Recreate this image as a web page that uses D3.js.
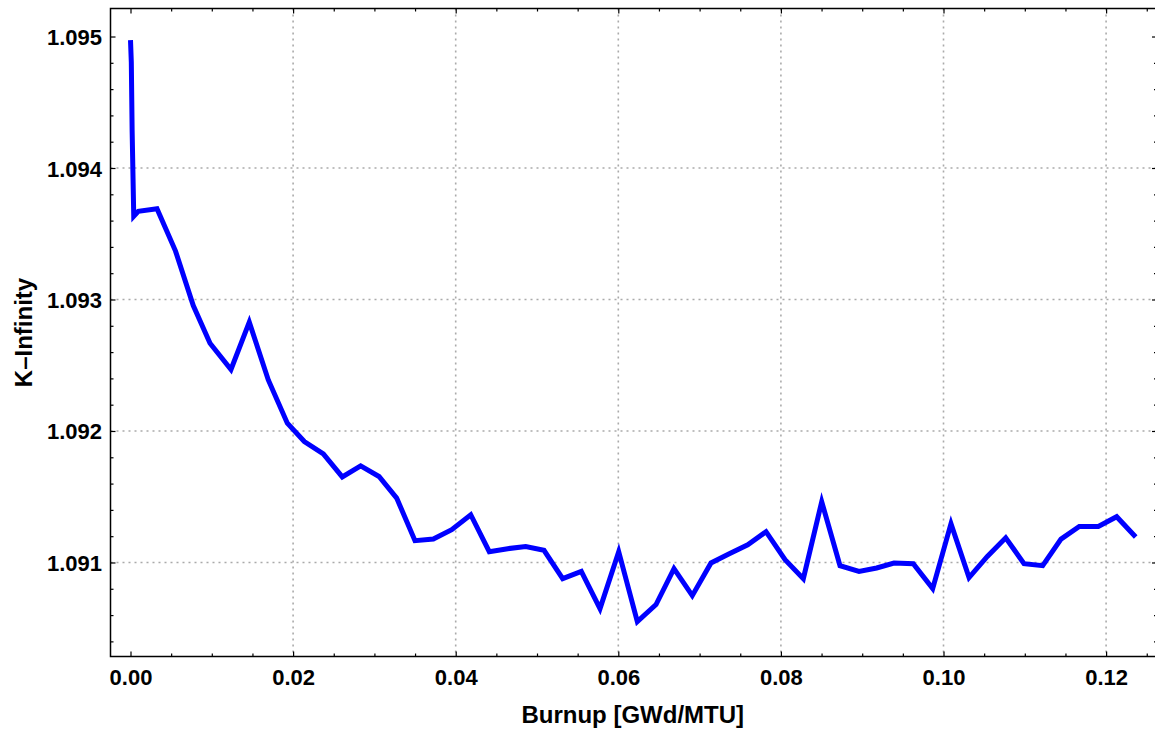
<!DOCTYPE html>
<html>
<head>
<meta charset="utf-8">
<script src="https://cdn.jsdelivr.net/npm/d3@7"></script>
<style>
  html, body { margin: 0; padding: 0; background: #fff; }
  svg { display: block; }
  text { font-family: "Liberation Sans", Arial, Helvetica, sans-serif; font-weight: bold; fill: #000; }
</style>
</head>
<body>
<svg id="chart" width="1155" height="734"></svg>
<script>
// Burnup steps [GWd/MTU]
const burnup = [
  0, 0.0001, 0.0002, 0.0004, 0.00096, 0.00326, 0.00554, 0.00772, 0.00978, 0.01236,
  0.01461, 0.01695, 0.01929, 0.02138, 0.02372, 0.02605, 0.02831, 0.03057, 0.03274, 0.03499,
  0.03725, 0.03951, 0.04185, 0.04413, 0.04640, 0.04861, 0.05086, 0.05316, 0.05545, 0.05775,
  0.06005, 0.06234, 0.06464, 0.06685, 0.06910, 0.07140, 0.07365, 0.07592, 0.07817, 0.08051,
  0.08276, 0.08502, 0.08727, 0.08961, 0.09178, 0.09391, 0.09628, 0.09867, 0.10092, 0.10314,
  0.10539, 0.10765, 0.10990, 0.11220, 0.11445, 0.11670, 0.11904, 0.12130, 0.12364
];

// Infinite multiplication factor at each step
const kInf = [
  1.094973, 1.094803, 1.094286, 1.093633, 1.093671, 1.093690, 1.093368, 1.092954, 1.092667, 1.092468,
  1.092828, 1.092388, 1.092059, 1.091920, 1.091826, 1.091651, 1.091735, 1.091654, 1.091490, 1.091166,
  1.091178, 1.091249, 1.091363, 1.091082, 1.091105, 1.091122, 1.091093, 1.090877, 1.090932, 1.090649,
  1.091082, 1.090550, 1.090680, 1.090953, 1.090748, 1.090996, 1.091067, 1.091135, 1.091234, 1.091021,
  1.090877, 1.091462, 1.090976, 1.090932, 1.090958, 1.090996, 1.090991, 1.090801, 1.091295, 1.090885,
  1.091046, 1.091188, 1.090991, 1.090976, 1.091178, 1.091274, 1.091274, 1.091348, 1.091194
];

const xTicks = [0, 0.02, 0.04, 0.06, 0.08, 0.10, 0.12];
const yTicks = [1.091, 1.092, 1.093, 1.094, 1.095];
const xGrid = [0.02, 0.04, 0.06, 0.08, 0.10, 0.12];
const yGrid = [1.091, 1.092, 1.093, 1.094];

const xTitle = "Burnup [GWd/MTU]";
const yTitle = "K\u2013Infinity";

const svg = d3.select("#chart");
const pLeft = 110.5, pRight = 1157, pTop = 8.5, pBottom = 656.5;

const x = d3.scaleLinear().domain([-0.00246, 0.12626]).range([pLeft, pRight]);
const y = d3.scaleLinear().domain([1.090285, 1.095213]).range([pBottom, pTop]);

// dotted grid
const grid = svg.append("g")
  .attr("stroke", "#aaaaaa").attr("stroke-width", 1.6).attr("stroke-dasharray", "2 4");
grid.selectAll("line.v").data(xGrid).join("line").attr("class", "v")
  .attr("x1", d => x(d)).attr("x2", d => x(d)).attr("y1", pTop).attr("y2", pBottom);
grid.selectAll("line.h").data(yGrid).join("line").attr("class", "h")
  .attr("x1", pLeft).attr("x2", pRight).attr("y1", d => y(d)).attr("y2", d => y(d));

// data line
const line = d3.line().x((d, i) => x(burnup[i])).y(d => y(d));
svg.append("path").datum(kInf)
  .attr("d", line)
  .attr("fill", "none").attr("stroke", "#0000ff").attr("stroke-width", 5)
  .attr("stroke-linejoin", "miter").attr("stroke-linecap", "butt");

// frame axes with inward ticks
const xMinor = d3.range(0, 0.1251, 0.005).filter(v => !xTicks.some(t => Math.abs(t - v) < 1e-9));
const yMinor = d3.range(1.0904, 1.0952, 0.0002).filter(v => !yTicks.some(t => Math.abs(t - v) < 1e-9));

function frameAxis(axisFn, scale, ticks, size, fmt) {
  return axisFn(scale).tickValues(ticks).tickSizeInner(-size).tickSizeOuter(0).tickPadding(0).tickFormat(fmt);
}

const gb = svg.append("g").attr("transform", `translate(0,${pBottom})`)
  .call(frameAxis(d3.axisBottom, x, xTicks, 5, d3.format(".2f")));
const gbm = svg.append("g").attr("transform", `translate(0,${pBottom})`)
  .call(frameAxis(d3.axisBottom, x, xMinor, 3, () => ""));
const gt = svg.append("g").attr("transform", `translate(0,${pTop})`)
  .call(frameAxis(d3.axisTop, x, xTicks, 5, () => ""));
const gtm = svg.append("g").attr("transform", `translate(0,${pTop})`)
  .call(frameAxis(d3.axisTop, x, xMinor, 3, () => ""));
const gl = svg.append("g").attr("transform", `translate(${pLeft},0)`)
  .call(frameAxis(d3.axisLeft, y, yTicks, 5, d3.format(".3f")));
const glm = svg.append("g").attr("transform", `translate(${pLeft},0)`)
  .call(frameAxis(d3.axisLeft, y, yMinor, 3, () => ""));
const gr = svg.append("g").attr("transform", `translate(${pRight},0)`)
  .call(frameAxis(d3.axisRight, y, yTicks, 5, () => ""));
const grm = svg.append("g").attr("transform", `translate(${pRight},0)`)
  .call(frameAxis(d3.axisRight, y, yMinor, 3, () => ""));

[gb, gbm, gt, gtm, gl, glm, gr, grm].forEach(g => {
  g.select(".domain").remove();
  g.selectAll(".tick line").attr("stroke", "#000").attr("stroke-width", 1.2);
});

// frame border
svg.append("rect")
  .attr("x", pLeft).attr("y", pTop).attr("width", pRight - pLeft).attr("height", pBottom - pTop)
  .attr("fill", "none").attr("stroke", "#000").attr("stroke-width", 1.5);

gb.selectAll(".tick text")
  .attr("font-size", 22).attr("dy", null).attr("y", 28.5)
  .attr("font-family", null).attr("fill", "#000");
gl.selectAll(".tick text")
  .attr("font-size", 22).attr("dy", null).attr("x", -8.5).attr("y", 8)
  .attr("font-family", null).attr("fill", "#000");

// axis titles
svg.append("text")
  .attr("x", (pLeft + 1155) / 2).attr("y", 722.5)
  .attr("text-anchor", "middle").attr("font-size", 24)
  .text(xTitle);
svg.append("text")
  .attr("transform", `translate(31.5,${(pTop + pBottom) / 2}) rotate(-90)`)
  .attr("text-anchor", "middle").attr("font-size", 24)
  .text(yTitle);
</script>
</body>
</html>
